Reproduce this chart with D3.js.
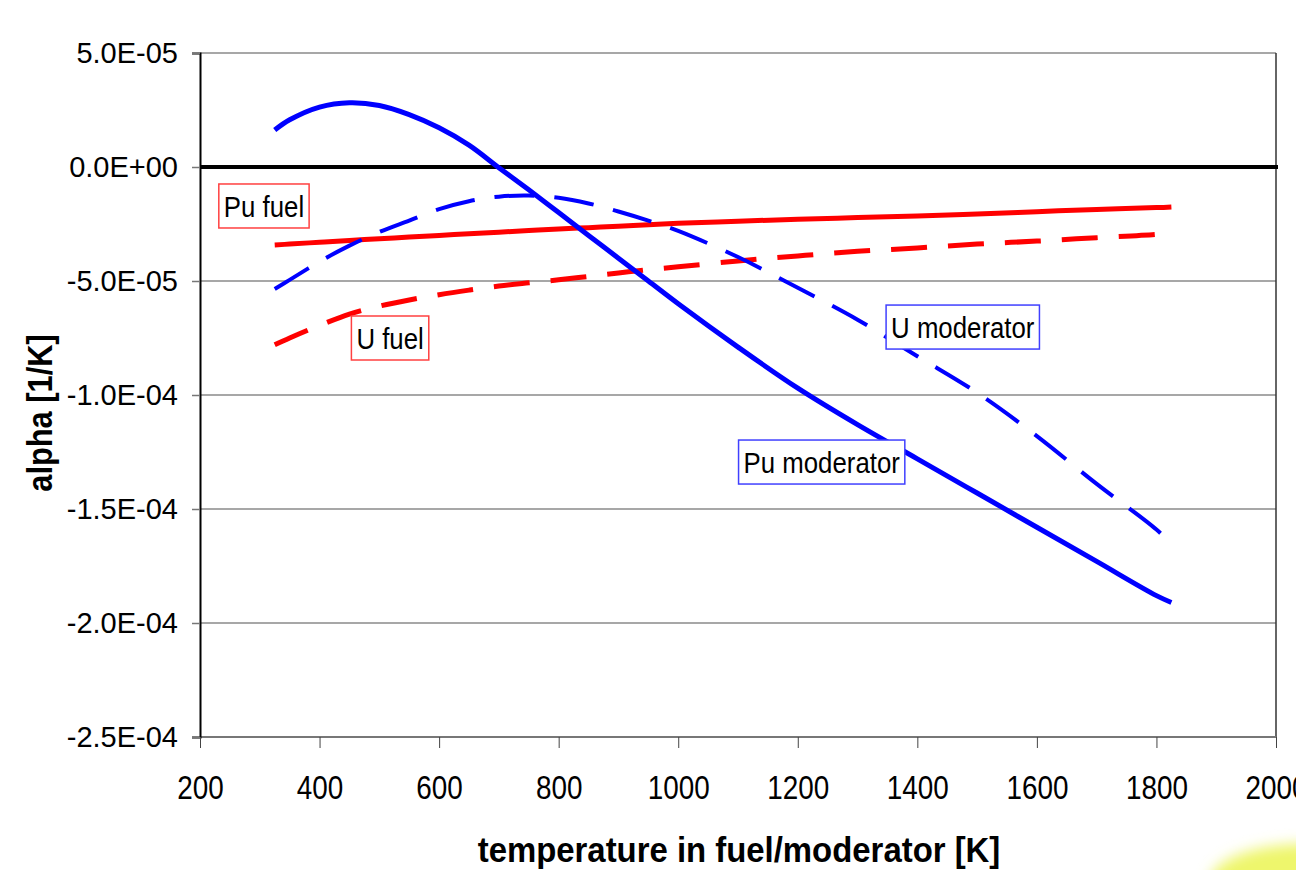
<!DOCTYPE html>
<html>
<head>
<meta charset="utf-8">
<script src="https://cdn.jsdelivr.net/npm/d3@7"></script>
<style>
  html, body { margin: 0; padding: 0; background: #fff; }
  svg { display: block; font-family: "Liberation Sans", Arial, sans-serif; }
</style>
</head>
<body>
<svg id="chart" width="1296" height="870"></svg>
<script>
// --- Data (alpha in units of 1E-05 per K) -----------------------------
const temps = [325, 350, 400, 450, 500, 550, 600, 650, 700, 750, 800, 850, 900, 950,
  1000, 1100, 1200, 1300, 1400, 1500, 1600, 1700, 1800, 1825];

const puModerator = [1.62, 2.07, 2.63, 2.82, 2.7, 2.3, 1.72, 0.96, -0.03, -1.0, -2.0, -3.0, -4.0, -5.0,
  -6.0, -7.9, -9.7, -11.3, -12.8, -14.3, -15.8, -17.3, -18.8, -19.1];

const puFuel = [-3.42, -3.38, -3.3, -3.22, -3.15, -3.07, -3.0, -2.93, -2.86, -2.79, -2.72, -2.66, -2.6, -2.53,
  -2.47, -2.38, -2.29, -2.22, -2.15, -2.06, -1.96, -1.86, -1.78, -1.75];

const uFuel = [-7.8, -7.5, -6.95, -6.45, -6.1, -5.83, -5.6, -5.4, -5.22, -5.08, -4.95, -4.8, -4.65, -4.5,
  -4.38, -4.12, -3.9, -3.7, -3.55, -3.38, -3.25, -3.1, -2.95, -2.88];

const uModerator = [-5.35, -4.95, -4.15, -3.45, -2.85, -2.35, -1.85, -1.5, -1.3, -1.25, -1.35, -1.6, -1.95, -2.35,
  -2.8, -3.95, -5.3, -6.7, -8.3, -9.9, -11.8, -13.9, -15.9, -16.55];

const xTicks = [200, 400, 600, 800, 1000, 1200, 1400, 1600, 1800, 2000];
const yTicks = [5, 0, -5, -10, -15, -20, -25];

// label boxes anchored in data space (temperature, alpha)
const labelNames = ['Pu fuel', 'U fuel', 'U moderator', 'Pu moderator'];
const labelAnchors = [[307, -1.71], [518, -7.5], [1476, -7.02], [1240, -12.94]];

// --- Layout ---------------------------------------------------------
const svg = d3.select('#chart');
const plotLeft = 200, plotRight = 1276, plotTop = 53, plotBottom = 737;

const x = d3.scaleLinear().domain([200, 2000]).range([plotLeft, plotRight]);
const y = d3.scaleLinear().domain([-25, 5]).range([plotBottom, plotTop]);

function sci(v) {
  if (v === 0) return '0.0E+00';
  const val = v * 1e-5;
  const e = Math.floor(Math.log10(Math.abs(val)) + 1e-9);
  const m = val / Math.pow(10, e);
  const sign = e < 0 ? '-' : '+';
  return m.toFixed(1) + 'E' + sign + String(Math.abs(e)).padStart(2, '0');
}

// yellow highlighter smudge in the corner
const defs = svg.append('defs');
defs.append('filter').attr('id', 'blur')
  .attr('x', '-50%').attr('y', '-50%').attr('width', '200%').attr('height', '200%')
  .append('feGaussianBlur').attr('stdDeviation', 7);
svg.append('ellipse')
  .attr('cx', 1305).attr('cy', 882).attr('rx', 95).attr('ry', 38)
  .attr('fill', '#eef66c').attr('filter', 'url(#blur)');

// gridlines
svg.append('g')
  .selectAll('line')
  .data(yTicks.filter(d => d !== 0 && d !== -25))
  .join('line')
  .attr('x1', plotLeft).attr('x2', plotRight)
  .attr('y1', d => y(d)).attr('y2', d => y(d))
  .attr('stroke', '#8a8a8a').attr('stroke-width', 1.5);

// plot frame right side + bottom axis
svg.append('line').attr('x1', plotRight).attr('x2', plotRight).attr('y1', plotTop).attr('y2', plotBottom)
  .attr('stroke', '#333').attr('stroke-width', 1.5);
svg.append('line').attr('x1', plotLeft).attr('x2', plotRight).attr('y1', plotBottom).attr('y2', plotBottom)
  .attr('stroke', '#777').attr('stroke-width', 2);

// y axis
const yAxis = d3.axisLeft(y).tickValues(yTicks).tickFormat(sci).tickSize(8).tickPadding(14);
const gy = svg.append('g').attr('transform', `translate(${plotLeft},0)`).call(yAxis);
gy.select('.domain').attr('stroke', '#000').attr('stroke-width', 2);
gy.selectAll('.tick line').attr('stroke', '#777').attr('stroke-width', 1.5);
gy.selectAll('.tick text').attr('font-size', 29).attr('fill', '#000')
  .attr('font-family', '"Liberation Sans", Arial, sans-serif');

// x axis (ticks only, line drawn above); labels are a narrow face, so squeeze them
const xAxis = d3.axisBottom(x).tickValues(xTicks).tickFormat(d3.format('d')).tickSize(11).tickPadding(27);
const gx = svg.append('g').attr('transform', `translate(0,${plotBottom})`).call(xAxis);
gx.select('.domain').remove();
gx.selectAll('.tick line').attr('stroke', '#444').attr('stroke-width', 1);
gx.selectAll('.tick text').attr('font-size', 34).attr('fill', '#000')
  .attr('font-family', '"Liberation Sans", Arial, sans-serif')
  .attr('transform', 'scale(0.82,1)');

// zero line
svg.append('line').attr('x1', plotLeft).attr('x2', plotRight + 2).attr('y1', y(0)).attr('y2', y(0))
  .attr('stroke', '#000').attr('stroke-width', 4);

// --- Series ---------------------------------------------------------
const line = d3.line()
  .x((d, i) => x(temps[i]))
  .y(d => y(d))
  .curve(d3.curveCatmullRom.alpha(0.5));

const series = [
  { values: puFuel, color: '#ff0000', width: 5, dash: null },
  { values: uFuel, color: '#ff0000', width: 5, dash: '36 21' },
  { values: uModerator, color: '#0000ff', width: 4, dash: '40 20' },
  { values: puModerator, color: '#0000ff', width: 5, dash: null },
];

svg.append('g')
  .selectAll('path')
  .data(series)
  .join('path')
  .attr('d', d => line(d.values))
  .attr('fill', 'none')
  .attr('stroke', d => d.color)
  .attr('stroke-width', d => d.width)
  .attr('stroke-dasharray', d => d.dash);

// --- Labels ---------------------------------------------------------
const labelColors = ['#ff4040', '#ff4040', '#4040ff', '#4040ff'];
labelNames.forEach((name, i) => {
  const [t, a] = labelAnchors[i];
  const g = svg.append('g').attr('transform', `translate(${x(t)},${y(a)})`);
  const rect = g.append('rect');
  const txt = g.append('text')
    .attr('text-anchor', 'middle')
    .attr('dy', '0.36em')
    .attr('font-size', 30)
    .attr('fill', '#000')
    .attr('transform', 'scale(0.86,1)')
    .text(name);
  const w = txt.node().getBBox().width * 0.86;
  rect.attr('x', -w / 2 - 5).attr('y', -22).attr('width', w + 10).attr('height', 44)
    .attr('fill', '#fff').attr('stroke', labelColors[i]).attr('stroke-width', 1.5);
});

// --- Titles -----------------------------------------------------------
svg.append('text')
  .attr('transform', 'translate(739,862) scale(0.94,1)')
  .attr('text-anchor', 'middle')
  .attr('font-size', 35).attr('font-weight', 'bold')
  .text('temperature in fuel/moderator [K]');

svg.append('text')
  .attr('transform', 'translate(52,413) rotate(-90) scale(0.88,1)')
  .attr('text-anchor', 'middle')
  .attr('font-size', 35).attr('font-weight', 'bold')
  .text('alpha [1/K]');
</script>
</body>
</html>
